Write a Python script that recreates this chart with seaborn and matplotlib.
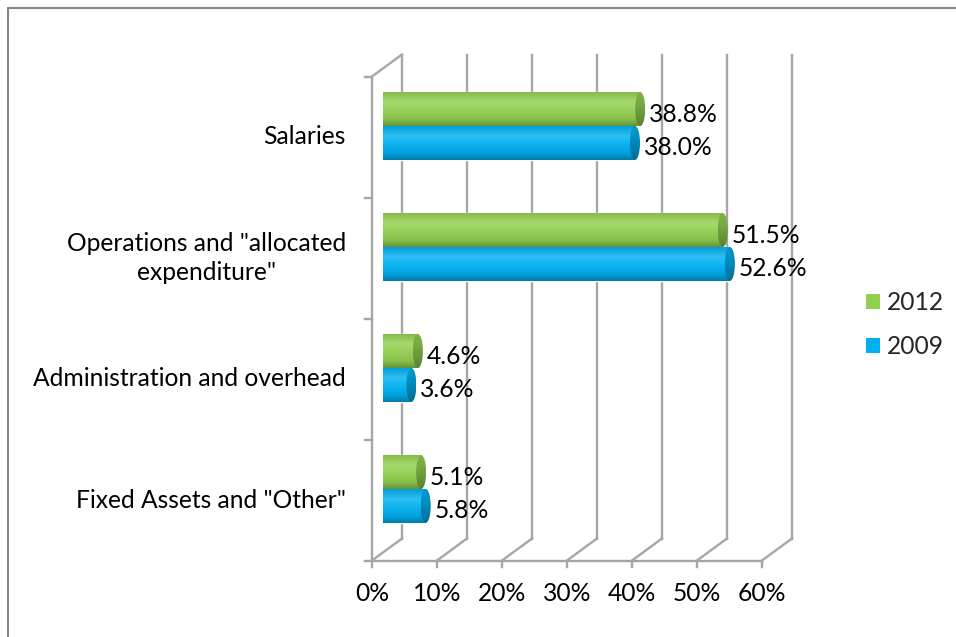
import numpy as np
import pandas as pd
import matplotlib
matplotlib.use("Agg")
import matplotlib.pyplot as plt
from matplotlib.colors import LinearSegmentedColormap, to_rgb
from matplotlib.patches import Ellipse, Patch
from matplotlib.lines import Line2D
import seaborn as sns

# ---- data -------------------------------------------------------------
categories = ['Salaries', 'Operations and "allocated\nexpenditure"',
              'Administration and overhead', 'Fixed Assets and "Other"']
share_2012 = [38.8, 51.5, 4.6, 5.1]
share_2009 = [38.0, 52.6, 3.6, 5.8]
years = ['2012', '2009']
x_ticks = [0, 10, 20, 30, 40, 50, 60]
x_tick_labels = ['0%', '10%', '20%', '30%', '40%', '50%', '60%']

series_colors = {'2012': '#92D050', '2009': '#00B0F0'}

df = pd.DataFrame({
    'category': categories * 2,
    'year': ['2012'] * len(categories) + ['2009'] * len(categories),
    'share': share_2012 + share_2009,
})
values_by_year = {'2012': share_2012, '2009': share_2009}

# ---- figure -----------------------------------------------------------
sns.set_theme(style='white')
plt.rcParams['font.family'] = ['Lato', 'DejaVu Sans']

W, H, DPI = 956, 637, 100
fig = plt.figure(figsize=(W / DPI, H / DPI), dpi=DPI)
fig.patch.set_facecolor('white')

# plot box (mid depth of the 3-D box), pixel extents
X0_PX, X60_PX = 388, 778
Y_TOP_PX, Y_BOT_PX = 65.5, 549.5
ax = fig.add_axes([X0_PX / W, 1 - Y_BOT_PX / H,
                   (X60_PX - X0_PX) / W, (Y_BOT_PX - Y_TOP_PX) / H])

sns.barplot(data=df, y='category', x='share', hue='year', hue_order=years,
            order=categories, palette=series_colors, orient='h', width=0.56,
            saturation=1, legend=False, ax=ax, zorder=3)
ax.axis('off')

px_x = 60 / (X60_PX - X0_PX)            # data units per pixel, horizontal
px_y = 4 / (Y_BOT_PX - Y_TOP_PX)        # data units per pixel, downward
FRONT = (-16 * px_x, 11 * px_y)         # front plane offset
BACK = (14 * px_x, -11 * px_y)          # back wall offset
Y_LO, Y_HI = 3.5, -0.5

# ---- font size: fit the longest category label -----------------------
renderer = fig.canvas.get_renderer()
probe = fig.text(0, 0, 'Administration and overhead', fontsize=10)
FS = 10 * 315 / probe.get_window_extent(renderer).width
probe.remove()

# ---- 3-D frame: back wall, floor, side wall ---------------------------
grid_kw = dict(color='#A6A6A6', lw=1.7, solid_capstyle='projecting',
               clip_on=False, zorder=1)
for x in x_ticks:
    ax.plot([x + BACK[0]] * 2, [Y_LO + BACK[1], Y_HI + BACK[1]], **grid_kw)
    ax.plot([x + FRONT[0], x + BACK[0]], [Y_LO + FRONT[1], Y_LO + BACK[1]], **grid_kw)
    ax.plot([x + FRONT[0]] * 2, [Y_LO + FRONT[1], Y_LO + FRONT[1] + 6 * px_y], **grid_kw)
ax.plot([FRONT[0], 60 + FRONT[0]], [Y_LO + FRONT[1]] * 2, **grid_kw)
ax.plot([FRONT[0]] * 2, [Y_LO + FRONT[1], Y_HI + FRONT[1]], **grid_kw)
ax.plot([FRONT[0], BACK[0]], [Y_HI + FRONT[1], Y_HI + BACK[1]], **grid_kw)
for b in np.arange(-0.5, len(categories), 1.0):
    ax.plot([FRONT[0] - 7 * px_x, FRONT[0]], [b + FRONT[1]] * 2, **grid_kw)


# ---- cylinder shading --------------------------------------------------
def shade(c, f):
    c = np.array(to_rgb(c))
    return np.clip(c + (1 - c) * (f - 1) if f >= 1 else c * f, 0, 1)


def body_cmap(c):
    return LinearSegmentedColormap.from_list('body', [
        (0.0, shade(c, 0.9)), (0.28, shade(c, 1.18)), (0.5, shade(c, 1.06)),
        (0.8, shade(c, 0.92)), (1.0, shade(c, 0.7))])


def cap_cmap(c):
    return LinearSegmentedColormap.from_list('cap', [
        (0.0, shade(c, 0.86)), (0.4, shade(c, 0.8)), (1.0, shade(c, 0.62))])


grad = np.linspace(0, 1, 256).reshape(-1, 1)
cap_w = 10 * px_x


def clipped_gradient(cmap, extent, clip, z):
    img = ax.imshow(grad, cmap=cmap, extent=extent, origin='upper',
                    aspect='auto', interpolation='bilinear', zorder=z)
    img.set_clip_path(clip)
    img.set_clip_box(fig.bbox)
    return img


for year, container in zip(years, ax.containers):
    color = series_colors[year]
    for bar, value in zip(container, values_by_year[year]):
        bar.set_clip_on(False)
        y0, h = bar.get_y(), bar.get_height()
        x0 = bar.get_x()
        x1 = x0 + bar.get_width()
        yc = y0 + h / 2
        ext = (x0 - cap_w / 2, x1, y0 + h, y0)
        clipped_gradient(body_cmap(color), ext, bar, 3.2)
        left_end = Ellipse((x0, yc), cap_w, h, transform=ax.transData)
        clipped_gradient(body_cmap(color), ext, left_end, 3.2)
        right_end = Ellipse((x1, yc), cap_w, h, transform=ax.transData)
        clipped_gradient(cap_cmap(color),
                         (x1 - cap_w / 2, x1 + cap_w / 2, y0 + h, y0),
                         right_end, 3.4)
        ax.text(x1 + cap_w / 2 + 4 * px_x, yc + 5 * px_y, f'{value:.1f}%',
                ha='left', va='center', fontsize=FS, color='black', zorder=5)

# ---- axis labels -------------------------------------------------------
for i, name in enumerate(categories):
    ax.text((346 - X0_PX) * px_x, i + FRONT[1], name, ha='right', va='center',
            multialignment='center', fontsize=FS, color='black', linespacing=1.3)
for x, lab in zip(x_ticks, x_tick_labels):
    ax.text(x + FRONT[0], Y_LO + FRONT[1] + 33 * px_y, lab, ha='center',
            va='center', fontsize=FS, color='black')

ax.set_xlim(0, 60)
ax.set_ylim(Y_LO, Y_HI)

# ---- legend ------------------------------------------------------------
handles = [Patch(facecolor=series_colors[y], edgecolor='none') for y in years]
fs_px = FS * DPI / 72
fig.legend(handles, years, loc='center left',
           bbox_to_anchor=(866 / W, 1 - 324.5 / H), frameon=False,
           fontsize=FS, handlelength=14 / fs_px, handleheight=14 / fs_px,
           handletextpad=7 / fs_px, labelspacing=0.85, borderpad=0,
           borderaxespad=0)

# ---- chart border ------------------------------------------------------
border_kw = dict(color='#868686', lw=1.5, transform=fig.transFigure)
fig.add_artist(Line2D([7.5 / W, 1.0], [1 - 7.5 / H] * 2, **border_kw))
fig.add_artist(Line2D([7.5 / W] * 2, [1 - 7.5 / H, 0.0], **border_kw))

fig.savefig('out.png', dpi=DPI)
